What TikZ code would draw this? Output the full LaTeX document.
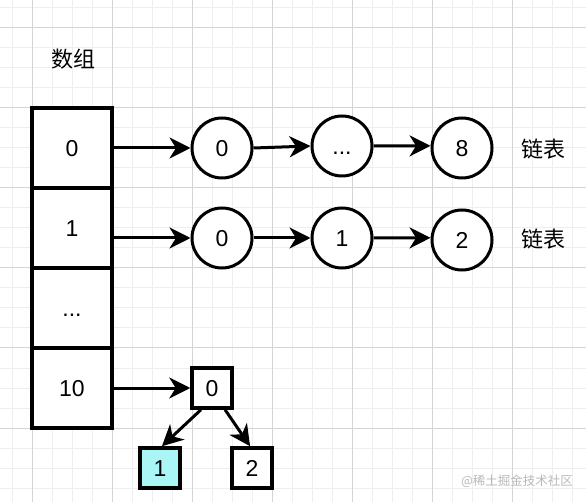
\documentclass[tikz,border=0pt]{standalone}
\usepackage{fontspec}
\setmainfont{Liberation Sans}
\newfontfamily\cjk{Noto Sans CJK SC}
\usetikzlibrary{arrows.meta}
\definecolor{cyanfill}{RGB}{170,245,245}
\definecolor{gridminor}{RGB}{238,238,238}
\definecolor{gridmajor}{RGB}{212,212,212}
\begin{document}
\begin{tikzpicture}[x=1pt,y=-1pt,
  txt/.style={font=\fontsize{23}{25}\selectfont, text height=16.5pt, text depth=0pt},
  cell/.style={txt, draw, line width=3.5pt, minimum width=80pt, minimum height=80pt, inner sep=0pt, fill=white},
  lnode/.style={txt, draw, circle, line width=3pt, minimum size=60pt, inner sep=0pt, fill=white},
  tnode/.style={txt, draw, line width=3.5pt, minimum size=40pt, inner sep=0pt, fill=white},
  label/.style={font=\cjk\fontsize{22}{24}\selectfont},
  conn/.style={line width=3pt, -{Stealth[length=21pt,width=21pt,inset=6.5pt]}}]
\useasboundingbox (0,0) rectangle (586,502);
\fill[white] (0,0) rectangle (586,502);
% grid
\foreach \x in {12,32,...,572} \draw[gridminor, line width=1pt] (\x,0) -- (\x,502);
\foreach \y in {8,28,...,500} \draw[gridminor, line width=1pt] (0,\y) -- (586,\y);
\foreach \x in {32,112,...,512} \draw[gridmajor, line width=1pt] (\x,0) -- (\x,502);
\foreach \y in {28,108,...,428} \draw[gridmajor, line width=1pt] (0,\y) -- (586,\y);

\node[label] (title) at (73,59) {数组};

\node[cell] (a0) at (72,148) {0};
\node[cell] (a1) at (72,228) {1};
\node[cell] (a2) at (72,308) {...};
\node[cell] (a3) at (72,388) {10};

\node[lnode] (c00) at (222,148) {0};
\node[lnode] (c01) at (342,146) {...};
\node[lnode] (c02) at (462,148) {8};
\node[label] (l0) at (543,149) {链表};

\node[lnode] (c10) at (222,238) {0};
\node[lnode] (c11) at (342,238) {1};
\node[lnode] (c12) at (462,240) {2};
\node[label] (l1) at (543,239) {链表};

\node[tnode] (t0) at (212,388) {0};
\node[tnode, fill=cyanfill] (t1) at (160,468) {1};
\node[tnode] (t2) at (252,468) {2};

\draw[conn] (a0.east) -- (c00.west);
\draw[conn] (c00.east) -- (c01.west);
\draw[conn] (c01.east) -- (c02.176);
\draw[conn] (a1.east |- c10.west) -- (c10.west);
\draw[conn] (c10.east) -- (c11.west);
\draw[conn] (c11.east) -- (c12.176);
\draw[conn] (a3.east) -- (t0.west);
\draw[conn] (t0.243) -- (t1.85);
\draw[conn] (t0.301) -- (t2.95);

\node[font=\cjk\fontsize{12.5}{14}\selectfont, text=gray!55] (wm) at (517,481) {@稀土掘金技术社区};
\end{tikzpicture}
\end{document}
